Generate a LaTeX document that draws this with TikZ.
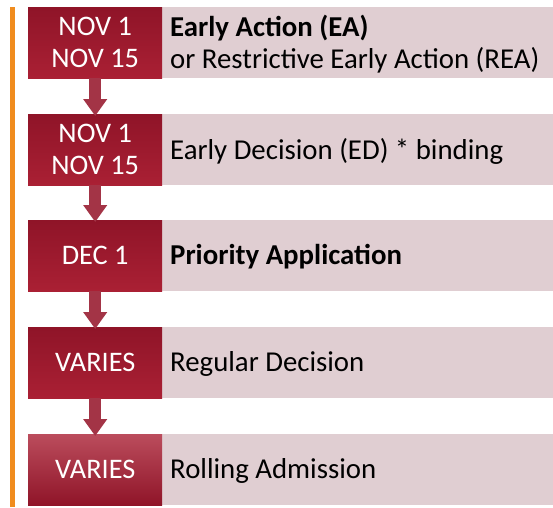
\documentclass[tikz,border=0pt]{standalone}
\usepackage{fontspec}
\setmainfont{Carlito}
\usetikzlibrary{arrows.meta}
\definecolor{boxtop}{RGB}{143,20,40}
\definecolor{boxbot}{RGB}{170,32,52}
\definecolor{pinkbg}{RGB}{224,206,210}
\definecolor{arrowred}{RGB}{163,52,70}
\definecolor{barorange}{RGB}{240,140,30}
\begin{document}
\begin{tikzpicture}[x=1pt,y=-1pt]
\tikzset{
  datebox/.style={minimum width=134pt, minimum height=71pt, inner sep=0pt, anchor=north west,
    text=white, align=center, font=\fontsize{28.3}{32}\selectfont, top color=boxtop, bottom color=boxbot},
  datebox5/.style={datebox, top color=boxbot!80!white, bottom color=boxtop},
  band/.style={fill=pinkbg, minimum width=391pt, minimum height=71pt, anchor=north west, inner sep=0pt},
  lbl/.style={anchor=west, align=left, inner sep=0pt, font=\fontsize{28.8}{32}\selectfont, text=black},
  flow/.style={-{Triangle[length=17pt,width=23pt]}, line width=12pt, draw=arrowred, shorten >=-2pt}
}
\useasboundingbox (0,0) rectangle (553,507);
\fill[barorange] (10,7) rectangle (15,507);
% bands
\node[band] (p1) at (162,7) {};
\node[band] (p2) at (162,114) {};
\node[band] (p3) at (162,220) {};
\node[band] (p4) at (162,327) {};
\node[band] (p5) at (162,434) {};
% boxes
\node[datebox] (b1) at (28,7) {NOV 1\\NOV 15};
\node[datebox] (b2) at (28,114) {NOV 1\\NOV 15};
\node[datebox] (b3) at (28,220) {DEC 1};
\node[datebox] (b4) at (28,327) {VARIES};
\node[datebox5] (b5) at (28,434) {VARIES};
% arrows
\draw[flow] (b1.south) -- (b2.north);
\draw[flow] (b2.south) -- (b3.north);
\draw[flow] (b3.south) -- (b4.north);
\draw[flow] (b4.south) -- (b5.north);
% labels
\node[lbl] (t1) at (170,44) {\textbf{Early Action (EA)}\\or Restrictive Early Action (REA)};
\node[lbl] (t2) at (170,151) {Early Decision (ED) * binding};
\node[lbl] (t3) at (170,257) {\textbf{Priority Application}};
\node[lbl] (t4) at (170,364) {Regular Decision};
\node[lbl] (t5) at (170,471) {Rolling Admission};
\end{tikzpicture}
\end{document}
